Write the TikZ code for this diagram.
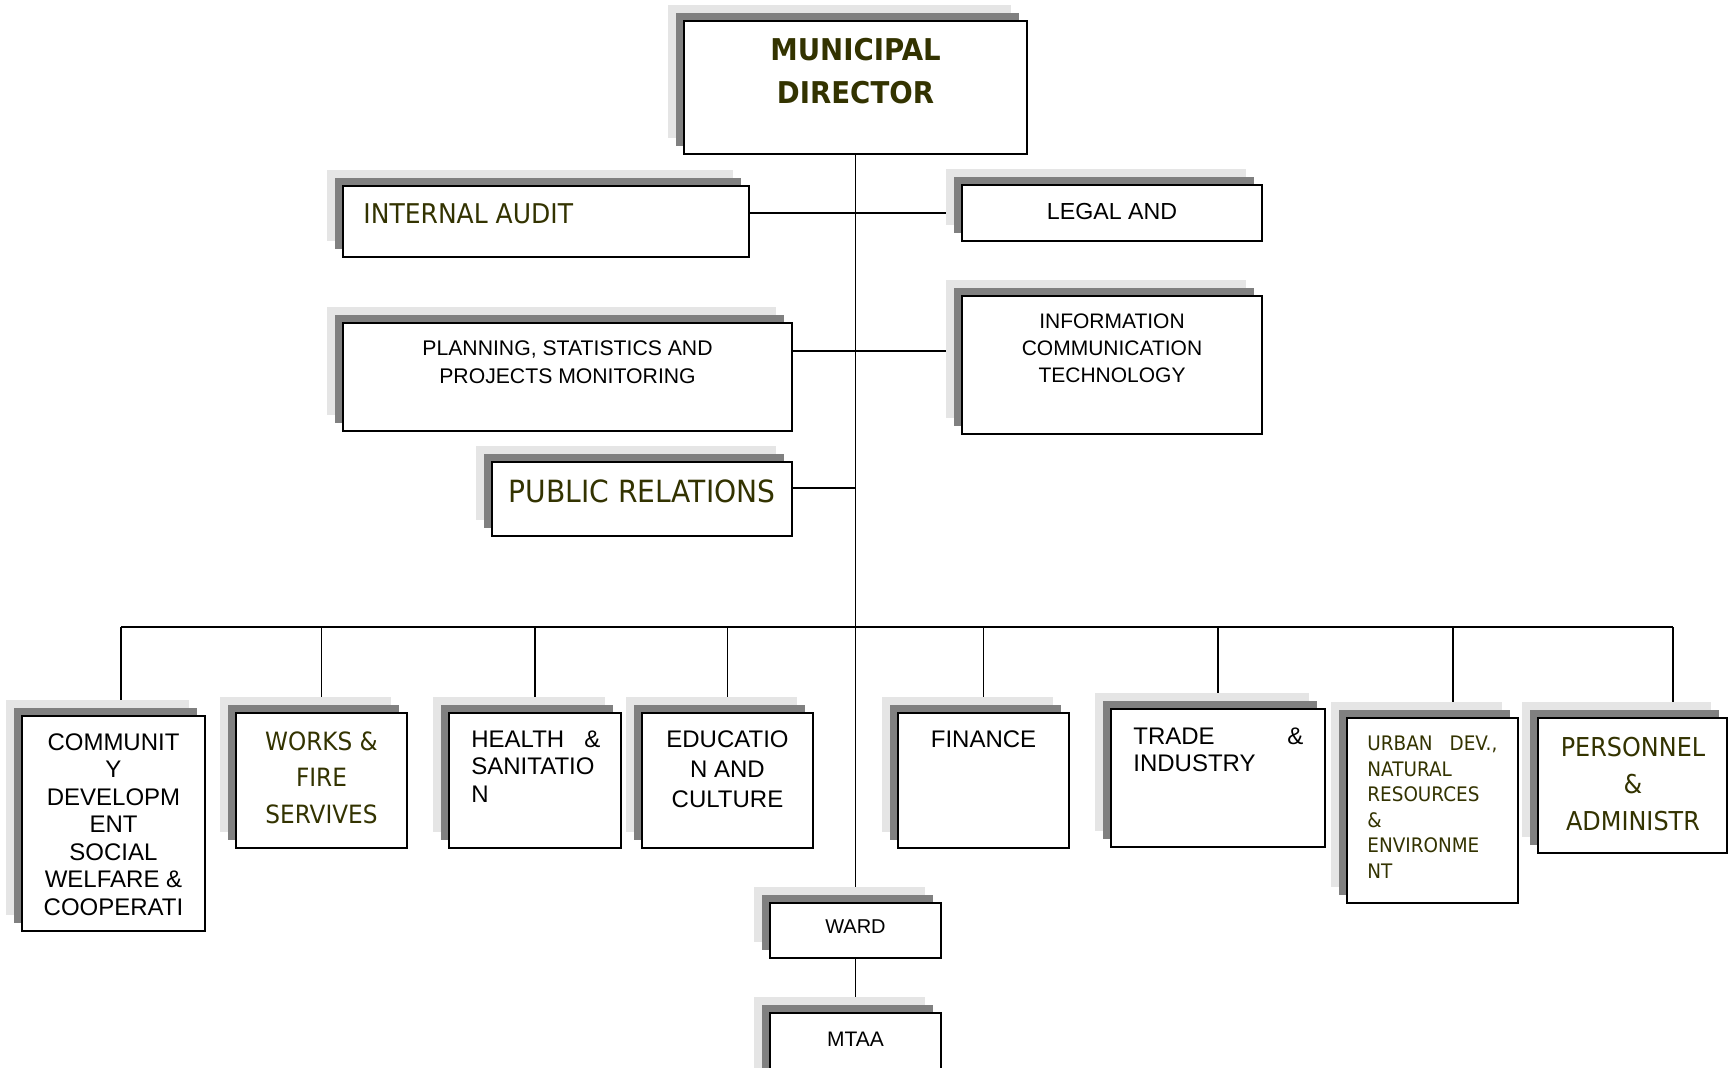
\documentclass[tikz,border=0pt]{standalone}
\usepackage{fontspec}
\setmainfont{Liberation Sans}
\newfontfamily\tahomafont[FakeStretch=0.92]{DejaVu Sans}
\usetikzlibrary{shadows,backgrounds}

\definecolor{olivetext}{RGB}{51,51,0}
\definecolor{lightshade}{RGB}{229,229,229}
\definecolor{darkshade}{RGB}{128,128,128}

\tikzset{
  unit/.style={draw, fill=white, line width=0.8pt, inner sep=0pt, outer sep=0pt, anchor=north west,
    copy shadow={shadow xshift=-8pt, shadow yshift=8pt, fill=lightshade, draw=none},
    copy shadow={shadow xshift=-4pt, shadow yshift=4pt, fill=darkshade, draw=none}},
  dims/.style 2 args={minimum width=#1*0.5pt, minimum height=#2*0.5pt},
  plain/.style={inner sep=0pt, anchor=north, align=center, text=black},
  olive/.style={inner sep=0pt, anchor=north, align=center, text=olivetext},
  link/.style={line width=0.8pt}
}

\begin{document}
\begin{tikzpicture}[x=0.5pt, y=-0.5pt]
  \useasboundingbox (0,0) rectangle (1730,1067);

  % boxes
  \node[unit, dims={343}{133}] (md) at (684,21) {};
  \node[unit, dims={406}{71}]  (ia) at (343,186) {};
  \node[unit, dims={300}{56}]  (lg) at (962,185) {};
  \node[unit, dims={449}{108}] (pl) at (343,323) {};
  \node[unit, dims={300}{138}] (ict) at (962,296) {};
  \node[unit, dims={300}{74}]  (pr) at (492,462) {};

  \node[unit, dims={183}{215}] (cd) at (22,716) {};
  \node[unit, dims={171}{135}] (wf) at (236,713) {};
  \node[unit, dims={172}{135}] (hs) at (449,713) {};
  \node[unit, dims={171}{135}] (ec) at (642,713) {};
  \node[unit, dims={171}{135}] (fi) at (898,713) {};
  \node[unit, dims={214}{138}] (ti) at (1111,709) {};
  \node[unit, dims={171}{185}] (ud) at (1347,718) {};
  \node[unit, dims={189}{135}] (pe) at (1538,718) {};
  \node[unit, dims={171}{55}]  (wa) at (770,903) {};
  \node[unit, dims={171}{75}]  (mt) at (770,1013) {};

  % texts
  \node[olive, font=\tahomafont\bfseries\fontsize{15}{21.5}\selectfont] (md-t) at (855.5,38) {MUNICIPAL\\DIRECTOR};
  \node[olive, anchor=north west, font=\tahomafont\fontsize{13.6}{16}\selectfont] (ia-t) at (363,203) {INTERNAL AUDIT};
  \node[plain, font=\fontsize{11.6}{14}\selectfont] (lg-t) at (1112,203) {LEGAL AND};
  \node[plain, font=\fontsize{10.6}{14}\selectfont] (pl-t) at (567.5,340) {PLANNING, STATISTICS AND\\PROJECTS MONITORING};
  \node[plain, font=\fontsize{10.5}{13.5}\selectfont] (ict-t) at (1112,313) {INFORMATION\\COMMUNICATION\\TECHNOLOGY};
  \node[olive, font=\tahomafont\fontsize{15.3}{19}\selectfont] (pr-t) at (642,479) {PUBLIC RELATIONS};

  \node[plain, font=\fontsize{12}{13.75}\selectfont] (cd-t) at (113.5,733) {COMMUNIT\\Y\\DEVELOPM\\ENT\\SOCIAL\\WELFARE \&\\COOPERATI};
  \node[olive, font=\tahomafont\fontsize{12.6}{18.3}\selectfont] (wf-t) at (321.5,731) {WORKS \&\\FIRE\\SERVIVES};
  \node[plain, anchor=north west, align=left, text width=64.5pt, font=\fontsize{12}{13.75}\selectfont] (hs-t) at (471,730) {HEALTH\hfill\&\\SANITATIO\\N};
  \node[plain, font=\fontsize{12}{15}\selectfont] (ec-t) at (727.5,730) {EDUCATIO\\N AND\\CULTURE};
  \node[plain, font=\fontsize{12}{14}\selectfont] (fi-t) at (983.5,730) {FINANCE};
  \node[plain, anchor=north west, align=left, text width=85pt, font=\fontsize{12}{13.5}\selectfont] (ti-t) at (1133,727) {TRADE\hfill\&\\INDUSTRY};
  \node[olive, anchor=north west, align=left, text width=65pt, font=\tahomafont\fontsize{10}{12.75}\selectfont] (ud-t) at (1367,736) {URBAN\hfill DEV.,\\NATURAL\\RESOURCES\\\&\\ENVIRONME\\NT};
  \node[olive, font=\tahomafont\fontsize{13}{18.5}\selectfont] (pe-t) at (1633,737) {PERSONNEL\\\&\\ADMINISTR};
  \node[plain, font=\fontsize{10}{12}\selectfont] (wa-t) at (855.5,919) {WARD};
  \node[plain, font=\fontsize{10.5}{12}\selectfont] (mt-t) at (855.5,1032) {MTAA};

  % connectors
  \begin{scope}[on background layer]
    \coordinate (row2) at (856,351);
    \coordinate (row3) at (856,488);
    \coordinate (busL) at (121,627);
    \coordinate (busR) at (1673,627);
    \draw[link] (md.south) -- (wa.north);
    \draw[link] (wa.south) -- (mt.north);
    \draw[link] (ia.east |- lg.west) -- (lg.west);
    \draw[link] (pl.east |- row2) -- (ict.west |- row2);
    \draw[link] (pr.east |- row3) -- (row3);
    \draw[link] (busL) -- (busR);
    \draw[link] (busL) -- (busL |- cd.north);
    \draw[link] (busR) -- (busR |- pe.north);
    \foreach \n in {wf,hs,ec,fi,ti}
      \draw[link] (\n.north |- busL) -- (\n.north);
    \draw[link] ([xshift=10.25pt]ud.north |- busL) -- ([xshift=10.25pt]ud.north);
  \end{scope}
\end{tikzpicture}
\end{document}
